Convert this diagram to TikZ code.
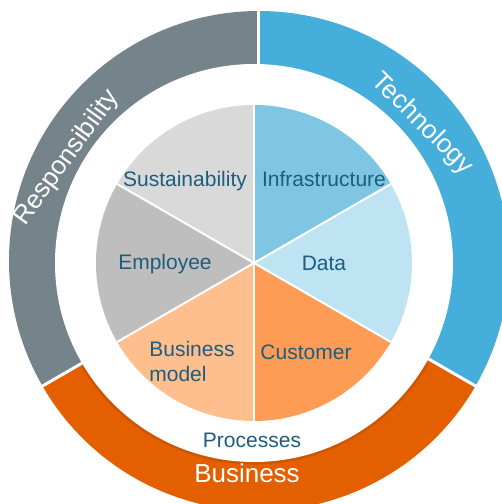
\documentclass[tikz,border=0pt]{standalone}
\usepackage{fontspec}
\setmainfont{Liberation Sans}
\usetikzlibrary{calc}

\definecolor{ringgray}{HTML}{75838A}
\definecolor{ringblue}{HTML}{45AEDB}
\definecolor{ringorange}{HTML}{E35F00}
\definecolor{sustfill}{HTML}{D9D9D9}
\definecolor{emplfill}{HTML}{BEBEBE}
\definecolor{bmodfill}{HTML}{FEBE8D}
\definecolor{custfill}{HTML}{FE9C56}
\definecolor{datafill}{HTML}{BEE3F2}
\definecolor{infrafill}{HTML}{7FC6E5}
\definecolor{labelblue}{HTML}{1D5D7D}

\tikzset{
  seg/.style={text=labelblue, inner sep=0pt, font=\fontsize{10.5}{12.5}\selectfont},
  ringlabel/.style={text=white, inner sep=0pt, font=\fontsize{13}{15}\selectfont},
  gap/.style={draw=white, line width=1.5pt},
  sep/.style={draw=white, line width=1pt}
}

\begin{document}
\begin{tikzpicture}[x=0.5pt,y=0.5pt]
\clip (-254,-241) rectangle (248,263);
\coordinate (C) at (0,0);
\coordinate (R) at (5,2);

\fill[ringblue] (R) -- ($(R)+(-30:250)$) arc (-30:90:250) -- cycle;
\fill[ringgray] (R) -- ($(R)+(90:250)$) arc (90:210:250) -- cycle;
\fill[ringorange] (R) -- ($(R)+(210:250)$) arc (210:330:250) -- cycle;
\draw[ringorange!80!black, line width=1.5pt, opacity=0.5] (210:200) arc (210:330:200);
\fill[white] (C) circle (199);
\path[gap] (R) edge ($(R)+(90:260)$)
	(R) edge ($(R)+(210:260)$)
	(R) edge ($(R)+(330:260)$);

\fill[sustfill] (C) -- (90:158) arc (90:150:158) -- cycle;
\fill[emplfill] (C) -- (150:158) arc (150:210:158) -- cycle;
\fill[bmodfill] (C) -- (210:158) arc (210:270:158) -- cycle;
\fill[custfill] (C) -- (270:158) arc (270:330:158) -- cycle;
\fill[datafill] (C) -- (-30:158) arc (-30:30:158) -- cycle;
\fill[infrafill] (C) -- (30:158) arc (30:90:158) -- cycle;
\path[sep] (C) edge (90:158) (C) edge (150:158) (C) edge (210:158)
	(C) edge (270:158) (C) edge (330:158) (C) edge (30:158);

\node[seg, anchor=base] (sust) at (-69,76) {Sustainability};
\node[seg, anchor=base] (infra) at (70,76) {Infrastructure};
\node[seg, anchor=base] (empl) at (-89,-6) {Employee};
\node[seg, anchor=base] (data) at (70,-7) {Data};
\node[seg, anchor=west, align=left] (bmod) at (-105,-98) {Business\\model};
\node[seg, anchor=base] (cust) at (52,-96) {Customer};
\node[seg, anchor=base] (proc) at (-2,-184) {Processes};

\node[ringlabel, anchor=base] (busi) at (-7,-219) {Business};
\node[ringlabel, rotate=54] (resp) at (-187,105) {Responsibility};
\node[ringlabel, rotate=-45] (tech) at (168,139) {Technology};
\end{tikzpicture}
\end{document}
